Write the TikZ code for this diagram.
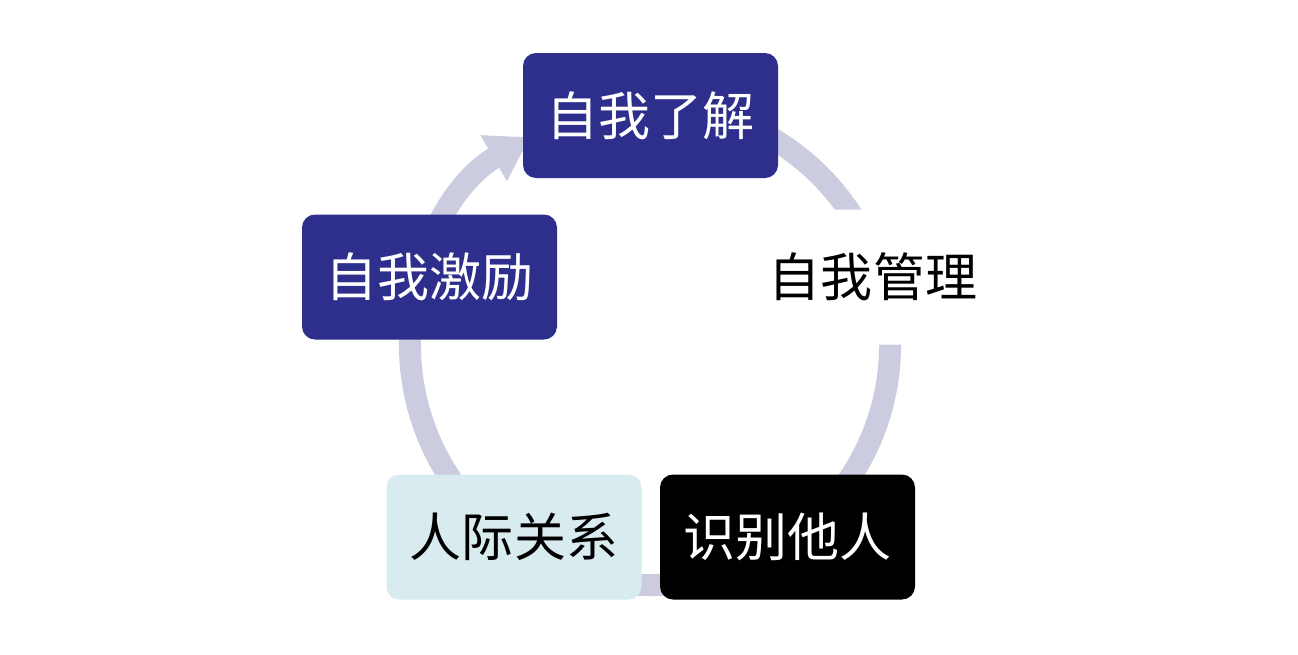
\documentclass[tikz,border=0pt]{standalone}
\usepackage{fontspec}
\newfontfamily\cjk{Noto Sans CJK SC}
\usetikzlibrary{arrows.meta,positioning}
\definecolor{ringgray}{RGB}{204,204,224}
\definecolor{darkblue}{RGB}{46,46,140}
\definecolor{palecyan}{RGB}{216,236,240}
\tikzset{
	stepbox/.style={rectangle, rounded corners=0.13cm, minimum width=2.55cm,
		minimum height=1.25cm, font=\cjk\fontsize{14.8}{16}\selectfont, inner sep=0pt},
	bluebox/.style={stepbox, fill=darkblue, text=white},
	ring/.style={draw=ringgray, line width=0.22cm}
}
\begin{document}
\begin{tikzpicture}
	\useasboundingbox (0,0) rectangle (12.98,6.54);
	\fill[white] (0,0) rectangle (12.98,6.54);
	% ring with arrow
	\coordinate (C) at (6.5,3.09);
	\draw[ring, -{Triangle[length=0.42cm, width=0.5cm]}]
		([shift={(100:2.4cm)}]C) arc[start angle=100, end angle=-240, radius=2.4cm];
	% steps
	\node[bluebox] (know) at (6.505,5.385) {自我了解};
	\node[stepbox, fill=white, minimum width=2.4cm, minimum height=1.35cm] (manage) at (8.73,3.77) {自我管理};
	\node[stepbox, fill=black, text=white] (others) at (7.875,1.17) {识别他人};
	\node[stepbox, fill=palecyan] (relation) at (5.14,1.17) {人际关系};
	\node[bluebox] (motive) at (4.295,3.77) {自我激励};
\end{tikzpicture}
\end{document}
